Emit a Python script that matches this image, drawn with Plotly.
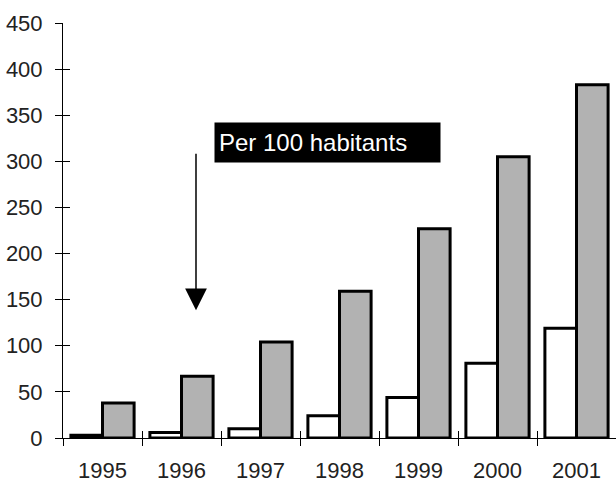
import plotly.graph_objects as go

years = ["1995", "1996", "1997", "1998", "1999", "2000", "2001"]
per_100 = [3, 6, 10, 24, 44, 81, 119]
total = [38, 67, 104, 159, 227, 305, 383]
y_ticks = [0, 50, 100, 150, 200, 250, 300, 350, 400, 450]

FONT = "Liberation Sans, Arial, sans-serif"

fig = go.Figure()
fig.add_trace(go.Bar(x=years, y=per_100, marker=dict(color="white", line=dict(color="black", width=3)),
                     showlegend=False))
fig.add_trace(go.Bar(x=years, y=total, marker=dict(color="#b2b2b2", line=dict(color="black", width=3)),
                     showlegend=False))
# invisible trace to carry the inward tick marks (ticks crossing the axis lines)
fig.add_trace(go.Scatter(x=years, y=[None] * len(years), xaxis="x2", yaxis="y2",
                         mode="markers", showlegend=False, hoverinfo="skip"))

fig.update_layout(
    width=616, height=484,
    margin=dict(l=63, r=0, t=23, b=46),
    paper_bgcolor="white", plot_bgcolor="white",
    barmode="group", bargap=0.2, bargroupgap=0,
    font=dict(family=FONT, size=22, color="#222222"),
    xaxis=dict(type="category", categoryorder="array", categoryarray=years,
               range=[-0.5, 6.5], tickson="boundaries", ticks="outside", ticklen=7,
               tickcolor="black", showline=True, linecolor="black", linewidth=1,
               showgrid=False, zeroline=False, ticklabelstandoff=13, automargin=False),
    yaxis=dict(range=[0, 450], tickvals=y_ticks, ticks="outside", ticklen=7,
               tickcolor="black", showline=True, linecolor="black", linewidth=1,
               showgrid=False, zeroline=False, ticklabelstandoff=8, automargin=False),
    xaxis2=dict(type="category", categoryorder="array", categoryarray=years, overlaying="x",
                anchor="y2", range=[-0.5, 6.5], tickson="boundaries", ticks="inside", ticklen=7,
                tickcolor="black", showticklabels=False, showline=False, showgrid=False,
                zeroline=False, automargin=False),
    yaxis2=dict(overlaying="y", anchor="x2", side="left", range=[0, 450], tickvals=y_ticks,
                ticks="inside", ticklen=7, tickcolor="black", showticklabels=False,
                showline=False, showgrid=False, zeroline=False, automargin=False),
)

fig.add_annotation(xref="paper", yref="paper", x=0.273, y=0.712, xanchor="left", yanchor="middle",
                   text="Per 100 habitants", showarrow=False, align="left",
                   width=217, height=31, bgcolor="black", borderpad=4,
                   font=dict(family=FONT, size=24, color="white"))
fig.add_annotation(xref="paper", yref="paper", x=0.2405, y=0.308, text="", showarrow=True,
                   ax=0, ay=-158, arrowhead=2, arrowsize=2.9, arrowwidth=1.5, arrowcolor="black")

fig.write_html("out.html", config={"displayModeBar": False},
               post_script="document.body.style.margin='0';")
